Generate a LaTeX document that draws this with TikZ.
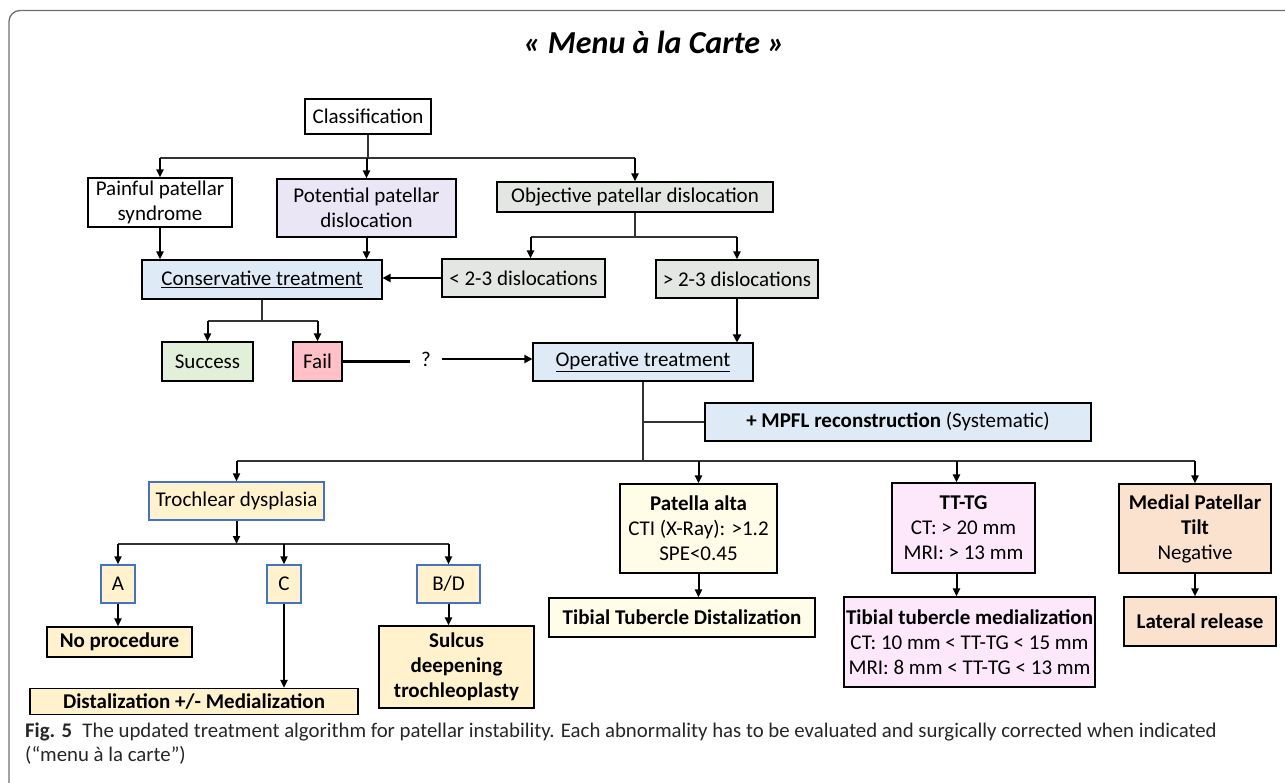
\documentclass[tikz,border=0pt]{standalone}
\usepackage{fontspec}
\setmainfont{Carlito}
\usetikzlibrary{arrows.meta}
\definecolor{lavender}{RGB}{234,230,246}
\definecolor{greybox}{RGB}{227,230,227}
\definecolor{paleblue}{RGB}{222,235,247}
\definecolor{palegreen}{RGB}{226,240,217}
\definecolor{failpink}{RGB}{255,192,200}
\definecolor{sandy}{RGB}{255,242,204}
\definecolor{cream}{RGB}{255,253,231}
\definecolor{rosy}{RGB}{253,231,250}
\definecolor{peach}{RGB}{251,226,207}
\definecolor{blueline}{RGB}{68,114,196}
\definecolor{framegrey}{RGB}{110,110,110}

\begin{document}
\begin{tikzpicture}[x=1pt,y=-1pt,
  box/.style={draw,line width=1.1pt,inner sep=0pt,align=center,font=\fontsize{21}{25}\selectfont},
  bbox/.style={box,font=\fontsize{21}{25}\selectfont\bfseries},
  tdbox/.style={box,draw=blueline,line width=1.4pt,fill=sandy},
  link/.style={line width=1.2pt,black!80},
  arr/.style={line width=2pt,-{Triangle[length=8pt,width=7pt]}},
  bigarr/.style={line width=2.6pt,-{Triangle[length=8pt,width=8pt]}}]
  \useasboundingbox (0,0) rectangle (1285,782);
  \draw[framegrey,line width=1.3pt,rounded corners=11pt] (9,10.5) rectangle (1310,800);

  % title
  \node[font=\fontsize{32}{38}\selectfont\bfseries\itshape] at (654,42) (title) {« Menu à la Carte »};

  % classification level
  \node[box,minimum width=126pt,minimum height=35pt] at (368,116.5) (classif) {Classification};
  \node[box,minimum width=144pt,minimum height=49pt] at (160,202.5) (painful) {Painful patellar\\syndrome};
  \node[box,fill=lavender,minimum width=179pt,minimum height=58pt] at (366.5,208) (potential) {Potential patellar\\dislocation};
  \node[box,fill=greybox,minimum width=276pt,minimum height=30pt] at (635,197) (objective) {Objective patellar dislocation};
  \node[box,fill=paleblue,minimum width=240pt,minimum height=39pt] at (262,279.5) (conserv) {\underline{Conservative treatment}};
  \node[box,fill=greybox,minimum width=163pt,minimum height=38pt] at (523.5,278) (less) {< 2-3 dislocations};
  \node[box,fill=greybox,minimum width=162pt,minimum height=38pt] at (737,279) (more) {> 2-3 dislocations};
  \node[box,fill=palegreen,minimum width=91pt,minimum height=39pt] at (207.5,361.5) (success) {Success};
  \node[box,fill=failpink,minimum width=49pt,minimum height=39pt] at (317.5,361.5) (fail) {Fail};
  \node[inner xsep=11pt,inner ysep=0pt,font=\fontsize{21}{25}\selectfont] at (426,359) (q) {?};
  \node[box,fill=paleblue,minimum width=220pt,minimum height=38pt] at (643,362) (operative) {\underline{Operative treatment}};
  \node[box,fill=paleblue,minimum width=386pt,minimum height=38pt] at (898,422) (mpfl) {\textbf{+ MPFL reconstruction} (Systematic)};

  % abnormalities
  \node[tdbox,minimum width=175pt,minimum height=38pt] at (236.5,501) (trochlear) {Trochlear dysplasia};
  \node[tdbox,minimum width=34pt,minimum height=38pt] at (118,584) (A) {A};
  \node[tdbox,minimum width=34pt,minimum height=38pt] at (284,584) (C) {C};
  \node[tdbox,minimum width=63pt,minimum height=38pt] at (448.5,584) (BD) {B/D};
  \node[bbox,fill=sandy,minimum width=145pt,minimum height=30pt] at (119.5,642) (noproc) {No procedure};
  \node[bbox,fill=sandy,minimum width=328pt,minimum height=26pt] at (194,701.5) (distal) {Distalization +/- Medialization};
  \node[bbox,fill=sandy,minimum width=155pt,minimum height=82pt] at (456.5,667) (sulcus) {Sulcus\\deepening\\trochleoplasty};
  \node[box,fill=cream,minimum width=157pt,minimum height=89pt] at (698.5,528.5) (patella) {\textbf{Patella alta}\\CTI (X-Ray): >1.2\\SPE<0.45};
  \node[bbox,fill=cream,minimum width=266pt,minimum height=39pt] at (682,617.5) (ttd) {Tibial Tubercle Distalization};
  \node[box,fill=rosy,minimum width=143pt,minimum height=90pt] at (963.5,528) (tttg) {\textbf{TT-TG}\\CT: > 20 mm\\MRI: > 13 mm};
  \node[box,fill=rosy,minimum width=251pt,minimum height=90pt] at (969.5,642) (ttmed) {\textbf{Tibial tubercle medialization}\\CT: 10 mm < TT-TG < 15 mm\\MRI: 8 mm < TT-TG < 13 mm};
  \node[box,fill=peach,minimum width=152pt,minimum height=89pt] at (1195,528.5) (tilt) {\textbf{Medial Patellar}\\\textbf{Tilt}\\Negative};
  \node[bbox,fill=peach,minimum width=152pt,minimum height=49pt] at (1200,621.5) (lateral) {Lateral release};

  % caption
  \node[anchor=base west,inner sep=0pt,font=\fontsize{20.8}{24}\selectfont,text=black!85] at (25,737) (cap1) {\textbf{Fig. 5}\enspace The updated treatment algorithm for patellar instability. Each abnormality has to be evaluated and surgically corrected when indicated};
  \node[anchor=base west,inner sep=0pt,font=\fontsize{20.8}{24}\selectfont,text=black!85] at (25,761) (cap2) {(“menu à la carte”)};

  % split points
  \coordinate (tbar) at (0,158);
  \coordinate (obar) at (0,237);
  \coordinate (cbar) at (0,321);
  \coordinate (mbar) at (0,461);
  \coordinate (dbar) at (0,544);
  \coordinate (lesstop) at ([xshift=7pt]less.north);
  \coordinate (tttgtop) at ([xshift=-7pt]tttg.north);
  \coordinate (tttgbot) at ([xshift=-7pt]tttg.south);

  % from classification
  \draw[link] (classif.south) -- (classif.south |- tbar);
  \draw[link] (painful.north |- tbar) -- (objective.north |- tbar);
  \draw[arr] (painful.north |- tbar) -- (painful.north);
  \draw[arr] (potential.north |- tbar) -- (potential.north);
  \draw[arr] (objective.north |- tbar) -- (objective.north);
  \draw[arr] (painful.south) -- (painful.south |- conserv.north);
  \draw[arr] (potential.south) -- (potential.south |- conserv.north);

  % objective dislocation
  \draw[link] (objective.south) -- (objective.south |- obar);
  \draw[link] (lesstop |- obar) -- (more.north |- obar);
  \draw[arr] (lesstop |- obar) -- (lesstop);
  \draw[arr] (more.north |- obar) -- (more.north);
  \draw[bigarr] (less.west) -- (less.west -| conserv.east);
  \draw[bigarr] (more.south) -- (more.south |- operative.north);

  % conservative treatment
  \draw[link] (conserv.south) -- (conserv.south |- cbar);
  \draw[link] (success.north |- cbar) -- (fail.north |- cbar);
  \draw[arr] (success.north |- cbar) -- (success.north);
  \draw[arr] (fail.north |- cbar) -- (fail.north);
  \draw[line width=2.4pt] (fail.east) -- (fail.east -| q.west);
  \draw[bigarr] (q.east) -- (q.east -| operative.west);

  % operative treatment
  \draw[link] (operative.south) -- (operative.south |- mbar);
  \draw[link] (operative.south |- mpfl.west) -- (mpfl.west);
  \draw[link] (trochlear.north |- mbar) -- (tilt.north |- mbar);
  \draw[arr] (trochlear.north |- mbar) -- (trochlear.north);
  \draw[arr] (patella.north |- mbar) -- (patella.north);
  \draw[arr] (tttgtop |- mbar) -- (tttgtop);
  \draw[arr] (tilt.north |- mbar) -- (tilt.north);

  % trochlear dysplasia
  \draw[arr] (trochlear.south) -- (trochlear.south |- dbar);
  \draw[link] (A.north |- dbar) -- (BD.north |- dbar);
  \draw[arr] (A.north |- dbar) -- (A.north);
  \draw[arr] (C.north |- dbar) -- (C.north);
  \draw[arr] (BD.north |- dbar) -- (BD.north);
  \draw[arr] (A.south) -- (A.south |- noproc.north);
  \draw[arr] (C.south) -- (C.south |- distal.north);
  \draw[arr] (BD.south) -- (BD.south |- sulcus.north);

  % other abnormalities
  \draw[arr] (patella.south) -- (patella.south |- ttd.north);
  \draw[arr] (tttgbot) -- (tttgbot |- ttmed.north);
  \draw[arr] (tilt.south) -- (tilt.south |- lateral.north);
\end{tikzpicture}
\end{document}
